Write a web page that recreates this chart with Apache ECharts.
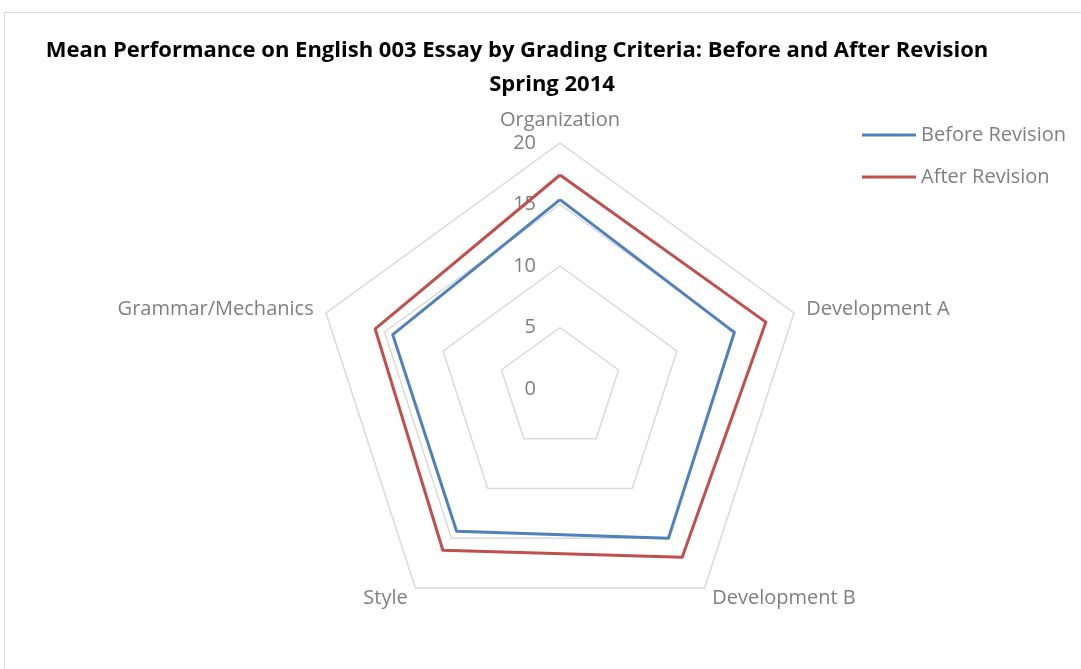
<!DOCTYPE html>
<html>
<head>
<meta charset="utf-8">
<script src="https://cdn.jsdelivr.net/npm/echarts@6/dist/echarts.min.js"></script>
<style>
  html, body { margin: 0; padding: 0; background: #fff; }
  #chart { width: 1081px; height: 669px; }
</style>
</head>
<body>
<div id="chart"></div>
<script>
// radar runs counterclockwise from the top, so axes are listed in that order
const criteria = ['Organization', 'Grammar/Mechanics', 'Style', 'Development B', 'Development A']
const beforeRevision = [15.4, 14.3, 14.3, 15.0, 14.9]
const afterRevision = [17.4, 15.8, 16.2, 16.9, 17.6]
const axisMax = 20

const chart = echarts.init(document.getElementById('chart'))

const labelFont = {
  color: '#7f7f7f',
  fontSize: 20,
  fontFamily: 'Open Sans'
}

const titleFont = { fontSize: 22, fontWeight: 'bold', color: '#000', fontFamily: 'Open Sans' }

const option = {
  backgroundColor: '#fff',
  animation: false,
  title: [
    {
      text: 'Mean Performance on English 003 Essay by Grading Criteria: Before and After Revision',
      left: 512,
      top: 35,
      textAlign: 'center',
      textStyle: titleFont
    },
    {
      text: 'Spring 2014',
      left: 547,
      top: 69,
      textAlign: 'center',
      textStyle: titleFont
    }
  ],
  graphic: [
    {
      type: 'rect',
      silent: true,
      shape: { x: 4.5, y: 12.5, width: 1100, height: 700 },
      style: { fill: 'none', stroke: '#d9d9d9', lineWidth: 1 }
    }
  ],
  legend: {
    orient: 'vertical',
    left: 857,
    top: 120,
    itemWidth: 54,
    itemHeight: 3,
    itemGap: 22,
    icon: 'rect',
    textStyle: labelFont,
    data: ['Before Revision', 'After Revision']
  },
  radar: {
    center: [560, 389],
    radius: 246,
    startAngle: 90,
    shape: 'polygon',
    splitNumber: 4,
    indicator: criteria.map(function(name, i) {
      const ind = { name: name, min: 0, max: axisMax }
      if (i === 0) {
        ind.axisLabel = { show: true }
      }
      return ind
    }),
    axisName: labelFont,
    nameGap: 13,
    axisLine: { show: false },
    axisTick: { show: false },
    axisLabel: {
      show: false,
      color: '#7f7f7f',
      fontSize: 20,
      fontFamily: 'Open Sans',
      margin: 24,
      showMinLabel: true
    },
    splitLine: { lineStyle: { color: '#d9d9d9', width: 1.5 } },
    splitArea: { show: false }
  },
  series: [
    {
      type: 'radar',
      symbol: 'none',
      data: [
        {
          name: 'Before Revision',
          value: beforeRevision,
          lineStyle: { color: '#4f81bd', width: 3 },
          itemStyle: { color: '#4f81bd' }
        },
        {
          name: 'After Revision',
          value: afterRevision,
          lineStyle: { color: '#c0504d', width: 3 },
          itemStyle: { color: '#c0504d' }
        }
      ]
    }
  ]
}

chart.setOption(option)
</script>
</body>
</html>
